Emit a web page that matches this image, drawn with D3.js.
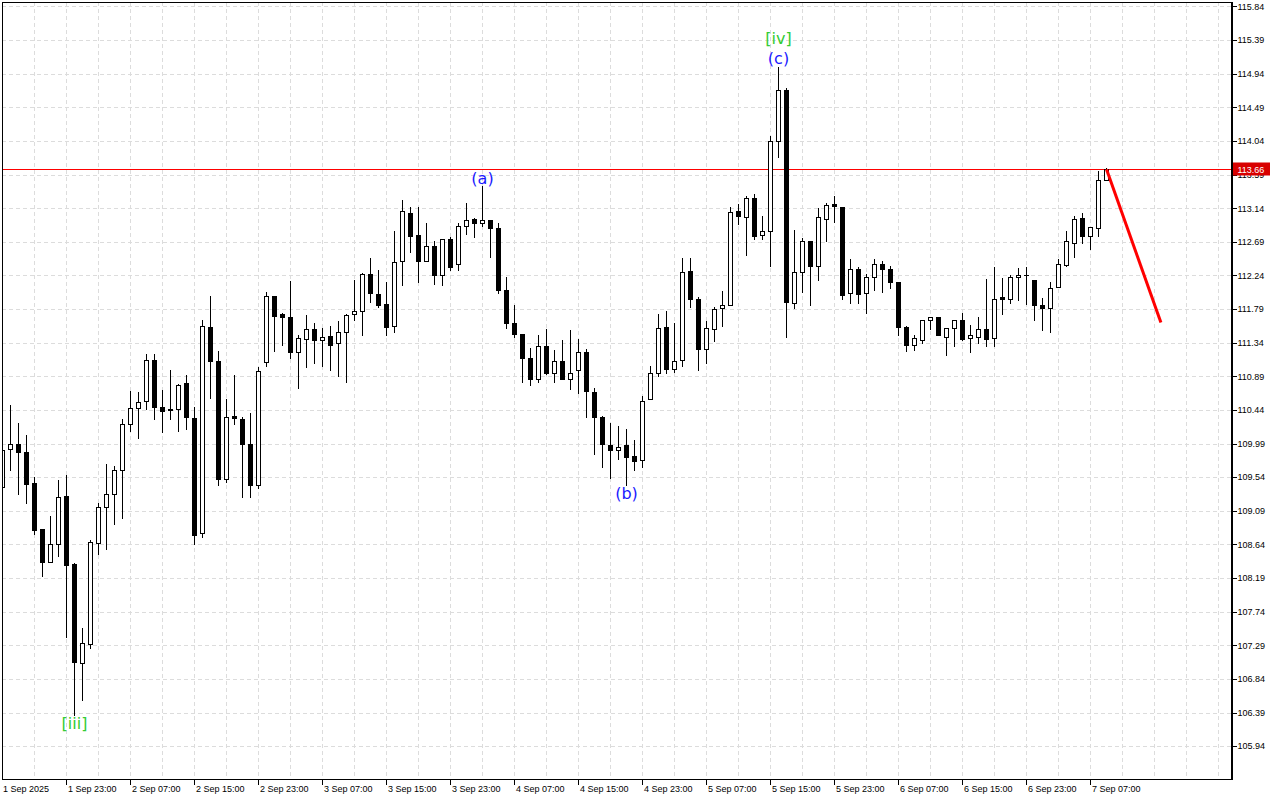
<!DOCTYPE html>
<html><head><meta charset="utf-8">
<script src="https://cdn.jsdelivr.net/npm/d3@7"></script>
<style>html,body{margin:0;padding:0;background:#fff;}svg{display:block;}</style>
</head><body>
<svg id="chart" width="1280" height="800"></svg>
<script>
// ---- DATA (hourly candles starting 1 Sep 2025 15:00) ----
const opens  = [109.41,109.92,109.98,109.88,109.46,108.84,108.41,108.65,109.29,108.38,107.05,107.31,108.66,109.14,109.32,109.63,110.25,110.46,110.56,111.11,110.48,110.44,110.45,110.80,110.33,108.79,111.55,111.09,109.51,110.36,110.32,109.99,109.43,111.08,111.97,111.73,111.68,111.21,111.39,111.52,111.37,111.43,111.33,111.48,111.72,111.76,112.26,111.99,111.86,111.56,112.43,113.08,112.78,112.43,112.64,112.25,112.73,112.39,112.90,113.00,112.94,112.98,112.87,112.05,111.61,111.45,111.13,110.85,111.30,110.94,111.09,110.85,110.97,111.21,110.68,110.35,109.97,109.90,109.97,109.82,109.77,110.58,110.93,111.55,110.99,111.11,112.30,111.93,111.25,111.52,111.80,111.84,113.10,113.02,113.28,112.78,112.83,114.04,114.72,111.87,112.28,112.70,112.37,112.99,113.19,113.15,112.00,112.32,112.00,112.22,112.39,112.33,112.15,111.55,111.31,111.37,111.65,111.68,111.42,111.53,111.64,111.40,111.42,111.52,111.40,111.95,111.92,112.22,112.24,112.18,111.85,111.80,112.08,112.38,112.68,113.01,112.77,112.88,113.52];
const highs  = [109.94,110.51,110.26,110.11,109.54,108.84,109.02,109.50,109.57,108.39,107.52,108.70,109.20,109.72,109.69,110.32,110.69,110.68,111.19,111.19,110.71,110.98,110.79,110.91,110.48,111.65,111.96,111.23,110.59,110.91,110.35,110.40,111.01,112.02,111.97,111.74,112.17,111.44,111.71,111.60,111.53,111.57,111.63,111.73,112.18,112.27,112.47,112.31,112.15,112.84,113.25,113.16,113.15,112.94,112.70,112.73,112.76,112.94,113.21,113.01,113.44,112.98,112.94,112.22,111.84,111.45,111.27,111.44,111.52,111.24,111.38,111.51,111.39,111.26,110.74,110.36,110.27,110.23,110.19,110.04,110.63,111.03,111.73,111.76,111.61,112.48,112.48,111.95,111.63,111.82,112.03,113.15,113.19,113.30,113.33,113.04,114.11,115.03,114.75,112.85,112.74,112.70,113.14,113.21,113.30,113.16,112.46,112.35,112.26,112.46,112.44,112.36,112.15,111.56,111.44,111.65,111.68,111.68,111.53,111.64,111.74,111.58,111.68,112.19,112.35,112.21,112.24,112.34,112.35,112.18,111.94,112.15,112.46,112.83,113.04,113.07,112.89,113.64,113.68];
const lows   = [109.41,109.63,109.31,109.19,108.78,108.22,108.41,108.49,107.40,106.36,106.56,107.26,108.51,108.58,108.91,109.00,110.16,110.06,110.45,110.32,110.15,110.32,110.16,110.18,108.65,108.74,110.60,109.43,109.48,110.25,109.27,109.28,109.40,111.03,111.23,111.31,111.14,110.73,111.01,111.07,111.03,110.98,110.90,110.81,111.64,111.44,111.88,111.82,111.44,111.48,112.11,112.55,112.15,112.43,112.13,112.11,112.31,112.31,112.79,112.76,112.90,112.49,112.01,111.53,111.41,110.82,110.77,110.81,110.92,110.81,110.85,110.72,110.66,110.35,109.85,109.67,109.53,109.78,109.44,109.63,109.67,110.58,110.89,110.94,110.95,111.03,111.82,110.97,111.07,111.36,111.56,111.84,112.93,112.52,112.73,112.73,112.37,113.83,111.42,111.80,112.02,111.84,112.18,112.70,112.95,111.93,111.87,111.87,111.74,112.05,112.02,112.07,111.44,111.23,111.24,111.33,111.52,111.44,111.17,111.29,111.38,111.22,111.34,111.29,111.29,111.72,111.87,111.91,111.86,111.65,111.51,111.48,112.08,112.37,112.49,112.67,112.60,112.77,113.52];
const closes = [109.91,109.98,109.88,109.45,108.83,108.40,108.65,109.27,108.37,107.07,107.32,108.67,109.14,109.31,109.63,110.25,110.46,110.55,111.11,110.48,110.43,110.45,110.78,110.34,108.77,111.56,111.10,109.51,110.34,110.33,109.99,109.44,110.96,111.97,111.70,111.68,111.21,111.40,111.52,111.37,111.42,111.31,111.48,111.71,111.76,112.26,112.00,111.84,111.55,112.42,113.10,112.77,112.43,112.63,112.25,112.73,112.35,112.90,112.98,112.94,112.98,112.87,112.04,111.60,111.45,111.13,110.86,111.30,110.93,111.09,110.85,110.94,111.21,110.69,110.34,109.98,109.90,109.95,109.81,109.76,110.56,110.93,111.53,110.99,111.09,112.28,111.92,111.25,111.53,111.79,111.84,113.09,113.03,113.28,112.77,112.83,114.04,114.72,111.88,112.28,112.70,112.36,113.02,113.18,113.17,111.98,112.32,111.99,112.22,112.39,112.33,112.15,111.55,111.31,111.40,111.65,111.68,111.44,111.53,111.64,111.39,111.44,111.52,111.39,111.92,111.92,112.22,112.24,112.24,111.84,111.80,112.07,112.39,112.70,112.99,112.77,112.89,113.52,113.66];

const yTickValues = [115.84,115.39,114.94,114.49,114.04,113.59,113.14,112.69,112.24,111.79,111.34,110.89,110.44,109.99,109.54,109.09,108.64,108.19,107.74,107.29,106.84,106.39,105.94];
const xTickIndex  = [0,8,16,24,32,40,48,56,64,72,80,88,96,104,112,120,128,136];
const xTickLabels = ["1 Sep 2025","1 Sep 23:00","2 Sep 07:00","2 Sep 15:00","2 Sep 23:00","3 Sep 07:00","3 Sep 15:00","3 Sep 23:00","4 Sep 07:00","4 Sep 15:00","4 Sep 23:00","5 Sep 07:00","5 Sep 15:00","5 Sep 23:00","6 Sep 07:00","6 Sep 15:00","6 Sep 23:00","7 Sep 07:00"];
const lastPrice = 113.66;
const forecastIndex = [138, 144.8];
const forecastPrice = [113.66, 111.61];
const waveText  = ["[iii]","(a)","(b)","(c)","[iv]"];
const waveIndex = [9, 60, 78, 97, 97];
const waveAnchor = ["low","high","low","high","high"];
const waveKind  = ["green","blue","blue","blue","green"];

// ---- LAYOUT ----
const plotL = 2, plotT = 2, plotR = 1231, plotB = 779;
const svg = d3.select("#chart");
const x = d3.scaleLinear().domain([0, 153]).range([2.5, 2.5 + 8 * 153]);
const y = d3.scaleLinear().domain([105.50, 115.90]).range([plotB, plotT]);
const snap = v => Math.round(v) + 0.5;

svg.append("rect").attr("width",1280).attr("height",800).attr("fill","#fff");
svg.append("defs").append("clipPath").attr("id","clip")
  .append("rect").attr("x",plotL).attr("y",plotT).attr("width",plotR-plotL).attr("height",plotB-plotT);

const grid = svg.append("g").attr("stroke","#dcdcdc").attr("stroke-dasharray","4,3").attr("shape-rendering","crispEdges");
grid.selectAll("line.h").data(yTickValues).join("line")
  .attr("x1",plotL).attr("x2",plotR).attr("y1",d=>snap(y(d))).attr("y2",d=>snap(y(d)));
const vIdx = d3.range(4, 153, 4);
grid.selectAll("line.v").data(vIdx).join("line")
  .attr("y1",plotT).attr("y2",plotB).attr("x1",d=>x(d)).attr("x2",d=>x(d));

// bid line
svg.append("line").attr("x1",plotL).attr("x2",plotR)
  .attr("y1",snap(y(lastPrice))).attr("y2",snap(y(lastPrice)))
  .attr("stroke","#ff0000").attr("stroke-width",1).attr("shape-rendering","crispEdges");

// candles
const candles = d3.range(opens.length).map(i=>({i,o:opens[i],h:highs[i],l:lows[i],c:closes[i]}));
const cg = svg.append("g").attr("clip-path","url(#clip)").attr("shape-rendering","crispEdges");
const g = cg.selectAll("g").data(candles).join("g");
g.append("line").attr("x1",d=>x(d.i)).attr("x2",d=>x(d.i))
  .attr("y1",d=>Math.round(y(d.h))).attr("y2",d=>Math.round(y(d.l))+1)
  .attr("stroke","#000");
g.each(function(d){
  const sel = d3.select(this);
  const top = Math.round(y(Math.max(d.o,d.c)));
  const bot = Math.round(y(Math.min(d.o,d.c)));
  const cx = x(d.i);
  if (d.c > d.o) {
    sel.append("rect").attr("x",cx-2).attr("y",top+0.5).attr("width",4).attr("height",Math.max(1,bot-top))
      .attr("fill","#fff").attr("stroke","#000");
  } else if (d.c < d.o) {
    sel.append("rect").attr("x",cx-2.5).attr("y",top).attr("width",5).attr("height",Math.max(1,bot-top+1))
      .attr("fill","#000");
  } else {
    sel.append("line").attr("x1",cx-2.5).attr("x2",cx+2.5).attr("y1",top+0.5).attr("y2",top+0.5).attr("stroke","#000");
  }
});

// forecast line
svg.append("line")
  .attr("x1",x(forecastIndex[0])).attr("y1",y(forecastPrice[0]))
  .attr("x2",x(forecastIndex[1])).attr("y2",y(forecastPrice[1]))
  .attr("stroke","#ff0000").attr("stroke-width",3);

// wave labels
const colorOf = {green:"#33cc33", blue:"#1a1aff"};
const offsetOf = {"[iii]":14.5,"(a)":-2,"(b)":14.5,"(c)":-3,"[iv]":-23};
svg.append("g").selectAll("text").data(waveText).join("text")
  .attr("x",(d,k)=>x(waveIndex[k]))
  .attr("y",(d,k)=>y(waveAnchor[k]==="low"?lows[waveIndex[k]]:highs[waveIndex[k]]) + offsetOf[d])
  .attr("text-anchor","middle").attr("font-family","DejaVu Sans").attr("font-size",16)
  .attr("fill",(d,k)=>colorOf[waveKind[k]]).text(d=>d);

// frame
const fr = svg.append("g").attr("shape-rendering","crispEdges");
fr.append("rect").attr("x",plotL+0.5).attr("y",plotT+0.5).attr("width",plotR-plotL).attr("height",plotB-plotT)
  .attr("fill","none").attr("stroke","#000");
fr.append("line").attr("x1",plotR+1.5).attr("x2",plotR+1.5).attr("y1",plotT).attr("y2",plotB+1).attr("stroke","#000");

// y axis labels
const ya = svg.append("g").attr("font-family","Liberation Sans").attr("font-size",9);
ya.selectAll("line").data(yTickValues).join("line")
  .attr("x1",plotR+2).attr("x2",plotR+6).attr("y1",d=>snap(y(d))).attr("y2",d=>snap(y(d)))
  .attr("stroke","#000").attr("shape-rendering","crispEdges");
ya.selectAll("text").data(yTickValues).join("text")
  .attr("x",1237.5).attr("y",d=>y(d)+3.3).attr("fill","#000").text(d=>d.toFixed(2));

// price label
const py = snap(y(lastPrice));
svg.append("rect").attr("x",plotR+2).attr("y",py-7).attr("width",1270-plotR-2).attr("height",13).attr("fill","#d80000");
svg.append("text").attr("x",1237.5).attr("y",py+3.3).attr("font-family","Liberation Sans").attr("font-size",9)
  .attr("fill","#fff").text(lastPrice.toFixed(2));

// x axis
const xa = svg.append("g").attr("font-family","Liberation Sans").attr("font-size",9);
xa.selectAll("line").data(xTickIndex.slice(1)).join("line")
  .attr("x1",d=>x(d)).attr("x2",d=>x(d)).attr("y1",plotB+1).attr("y2",plotB+6)
  .attr("stroke","#000").attr("shape-rendering","crispEdges");
xa.selectAll("text").data(xTickLabels).join("text")
  .attr("x",(d,k)=> k===0 ? 3 : x(xTickIndex[k])+1.5).attr("y",792).attr("fill","#000").text(d=>d);
</script>
</body></html>
